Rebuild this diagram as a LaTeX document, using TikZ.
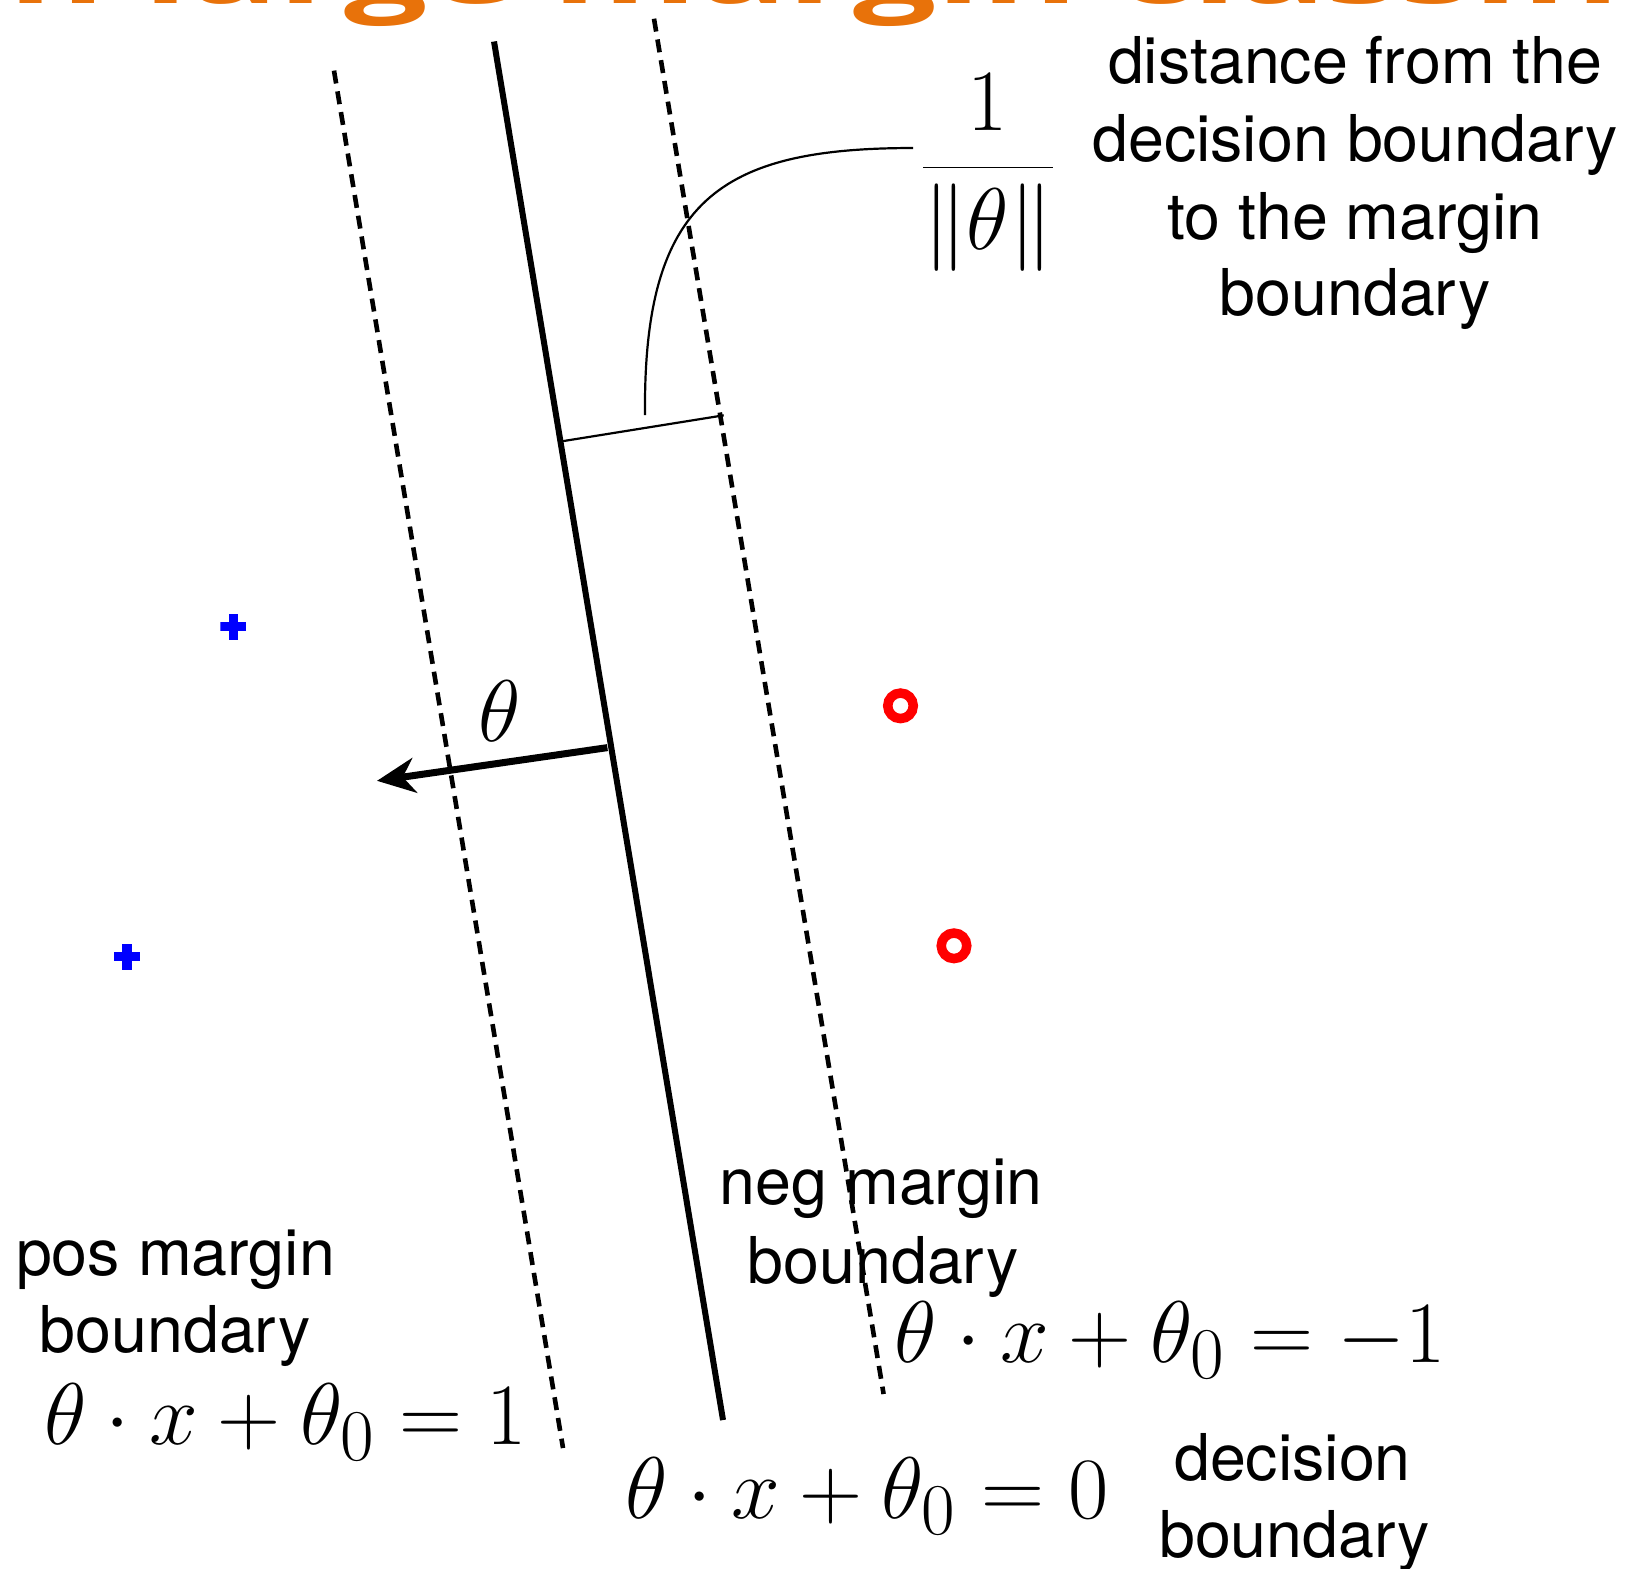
\documentclass[tikz,border=0pt]{standalone}
\usepackage{fontspec}
\usetikzlibrary{arrows.meta,calc}
\newfontfamily\helv{TeX Gyre Heros}
\newfontfamily\titlefont{Open Sans}
\definecolor{titleorange}{RGB}{232,114,10}
\tikzset{
  lbl/.style={inner sep=0pt, anchor=base, font=\helv\fontsize{18.35pt}{22pt}\selectfont},
  eq/.style={inner sep=0pt, anchor=base, font=\fontsize{24.88pt}{30pt}\selectfont},
  boundaryline/.style={line width=0.06cm},
  marginline/.style={line width=0.046cm, dash pattern=on 0.13cm off 0.08cm},
  thinline/.style={line width=0.022cm},
  normalvec/.style={line width=0.07cm, -{Stealth[length=0.38cm,width=0.35cm,inset=0.12cm]}},
  posmark/.style={rectangle, minimum size=0.26cm, inner sep=0pt,
    path picture={
      \fill[blue] ($(path picture bounding box.south)+(-4.8,0)$) rectangle ($(path picture bounding box.north)+(4.8,0)$);
      \fill[blue] ($(path picture bounding box.west)+(0,-4.8)$) rectangle ($(path picture bounding box.east)+(0,4.8)$);
    }},
  negmark/.style={circle, draw=red, line width=0.095cm, minimum size=0.255cm, inner sep=0pt},
}
\begin{document}
\begin{tikzpicture}[x=0.01cm,y=-0.01cm]
\useasboundingbox (0,0) rectangle (1628,1568);
\clip (0,0) rectangle (1628,1568);

% cut-off title
\node[anchor=base west, inner sep=0pt, text=titleorange, yscale=0.65, transform shape,
  font=\titlefont\bfseries\fontsize{42pt}{50pt}\selectfont] (title) at (8,3) {n large margin classifier};

% boundary lines
\coordinate (dbTop) at (494,41.5);
\coordinate (dbBot) at (723,1420);
\coordinate (posTop) at (334,70.6);
\coordinate (posBot) at (563,1448);
\coordinate (negTop) at (654,18.7);
\coordinate (negBot) at (883.6,1394);

\draw[boundaryline] (dbTop) -- (dbBot);
\draw[marginline] (posTop) -- (posBot);
\draw[marginline] (negTop) -- (negBot);

% margin width bracket and callout curve
\coordinate (mA) at (561.7,441.3);
\coordinate (mB) at (723.7,415.3);
\draw[thinline] (mA) -- (mB);
\coordinate (cStart) at (645,415);
\coordinate (cEnd) at (913,148);
\draw[thinline] (cStart) .. controls (643,200) and (720,148) .. (cEnd);

% normal vector
\coordinate (vStart) at (607.4,747.6);
\coordinate (vTip) at (377,780.8);
\draw[normalvec] (vStart) -- (vTip);
\node[eq] (thetalbl) at (500,741) {$\theta$};

% data points
\node[posmark] (p1) at (233.3,626.5) {};
\node[posmark] (p2) at (127,956.5) {};
\node[negmark] (n1) at (900.5,705.8) {};
\node[negmark] (n2) at (954,945.8) {};

% fraction
\node[eq] (frac) at (988,189.5) {$\displaystyle\frac{1}{\|\theta\|}$};

% top right explanation
\node[lbl] (d1) at (1355,83) {distance from the};
\node[lbl] (d2) at (1355,161) {decision boundary};
\node[lbl] (d3) at (1355,239) {to the margin};
\node[lbl] (d4) at (1355,315) {boundary};

% pos margin labels
\node[lbl] (pm1) at (175.5,1275) {pos margin};
\node[lbl] (pm2) at (175,1352) {boundary};
\node[eq] (eqpos) at (285.5,1444) {$\theta\cdot x+\theta_0=1$};

% neg margin labels
\node[lbl] (nm1) at (881,1204) {neg margin};
\node[lbl] (nm2) at (883,1283) {boundary};
\node[eq] (eqneg) at (1170,1362) {$\theta\cdot x+\theta_0=-1$};

% decision boundary labels
\node[eq] (eqdb) at (867,1518) {$\theta\cdot x+\theta_0=0$};
\node[lbl] (db1) at (1292.5,1480) {decision};
\node[lbl] (db2) at (1294.5,1557) {boundary};
\end{tikzpicture}
\end{document}
